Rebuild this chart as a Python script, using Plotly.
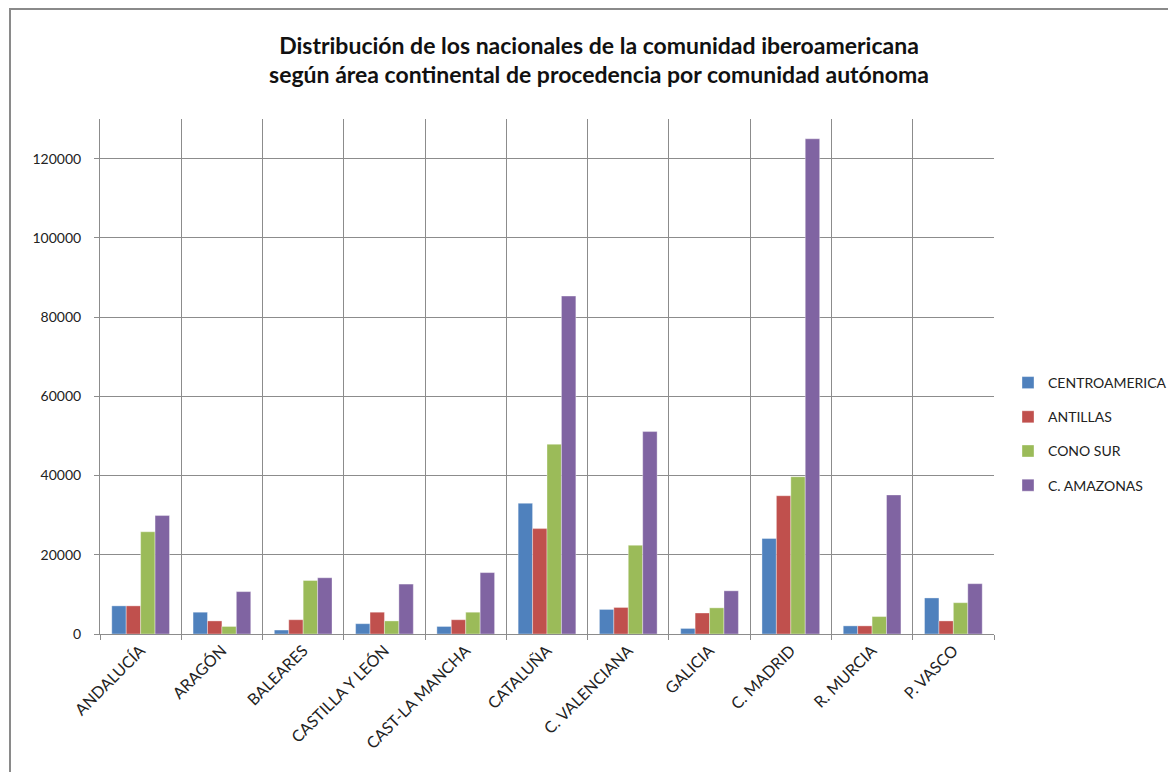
import plotly.graph_objects as go

categories = ["ANDALUCÍA", "ARAGÓN", "BALEARES", "CASTILLA Y LEÓN", "CAST-LA MANCHA",
              "CATALUÑA", "C. VALENCIANA", "GALICIA", "C. MADRID", "R. MURCIA", "P. VASCO"]
centroamerica = [7100, 5500, 1000, 2600, 1900, 33000, 6200, 1400, 24100, 2050, 9100]
antillas = [7100, 3300, 3600, 5500, 3600, 26600, 6700, 5300, 34900, 2050, 3300]
cono_sur = [25800, 1900, 13500, 3300, 5500, 47900, 22400, 6600, 39700, 4400, 7900]
amazonas = [29900, 10700, 14200, 12600, 15500, 85300, 51100, 10900, 125000, 35100, 12700]

series = [
    ("CENTROAMERICA", centroamerica, "#4F81BD"),
    ("ANTILLAS", antillas, "#C0504D"),
    ("CONO SUR", cono_sur, "#9BBB59"),
    ("C. AMAZONAS", amazonas, "#8064A2"),
]

FONT = "Lato, Carlito, Calibri, sans-serif"

fig = go.Figure()
for i, (name, vals, color) in enumerate(series):
    fig.add_trace(go.Bar(
        x=categories, y=vals, name=name, legendgroup=f"g{i}",
        marker=dict(color=color, line=dict(color="rgba(255,255,255,0.6)", width=0.6)),
    ))

L, T, R, B = 92, 111, 190, 146
PW, PH = 1176 - L - R, 772 - T - B

fig.update_layout(
    width=1176, height=772,
    paper_bgcolor="white", plot_bgcolor="white",
    barmode="group", bargap=0.29, bargroupgap=0,
    margin=dict(l=L, r=R, t=T, b=B, autoexpand=False),
    font=dict(family=FONT, size=14, color="#222222"),
    title=dict(
        text="<b>Distribución de los nacionales de la comunidad iberoamericana<br>según área continental de procedencia por comunidad autónoma</b>",
        x=591 / 1176, xanchor="center", y=0.941, yanchor="top",
        font=dict(family=FONT, size=23, color="#111111"),
    ),
    showlegend=True,
    legend=dict(
        xref="container", yref="container",
        x=1000 / 1176, xanchor="left", y=1 - 426 / 772, yanchor="middle",
        font=dict(family=FONT, size=14, color="#222222"),
        traceorder="grouped", tracegroupgap=13,
        itemwidth=30,
    ),
    xaxis=dict(
        type="category", tickson="boundaries", showgrid=True,
        gridcolor="#8c8c8c", gridwidth=1,
        showline=True, linecolor="#8c8c8c", linewidth=1,
        ticks="outside", ticklen=5, tickcolor="#8c8c8c",
        tickangle=-45, tickfont=dict(family=FONT, size=16, color="#222222"),
        automargin=False,
    ),
    yaxis=dict(
        range=[0, 130000], tick0=0, dtick=20000, showgrid=True,
        gridcolor="#8c8c8c", gridwidth=1,
        showline=True, linecolor="#8c8c8c", linewidth=1,
        ticks="outside", ticklen=5, tickcolor="#8c8c8c",
        tickformat="d", zeroline=False, ticklabelstandoff=10,
        tickfont=dict(family=FONT, size=14, color="#222222"),
        automargin=False,
    ),
    shapes=[dict(
        type="rect", xref="paper", yref="paper",
        x0=(2 - L) / PW, x1=1.5, y0=-0.5, y1=1 + (T - 1) / PH,
        line=dict(color="#8a8a8a", width=2), fillcolor="rgba(0,0,0,0)", layer="below",
    )],
)

fig.write_html("out.html")
